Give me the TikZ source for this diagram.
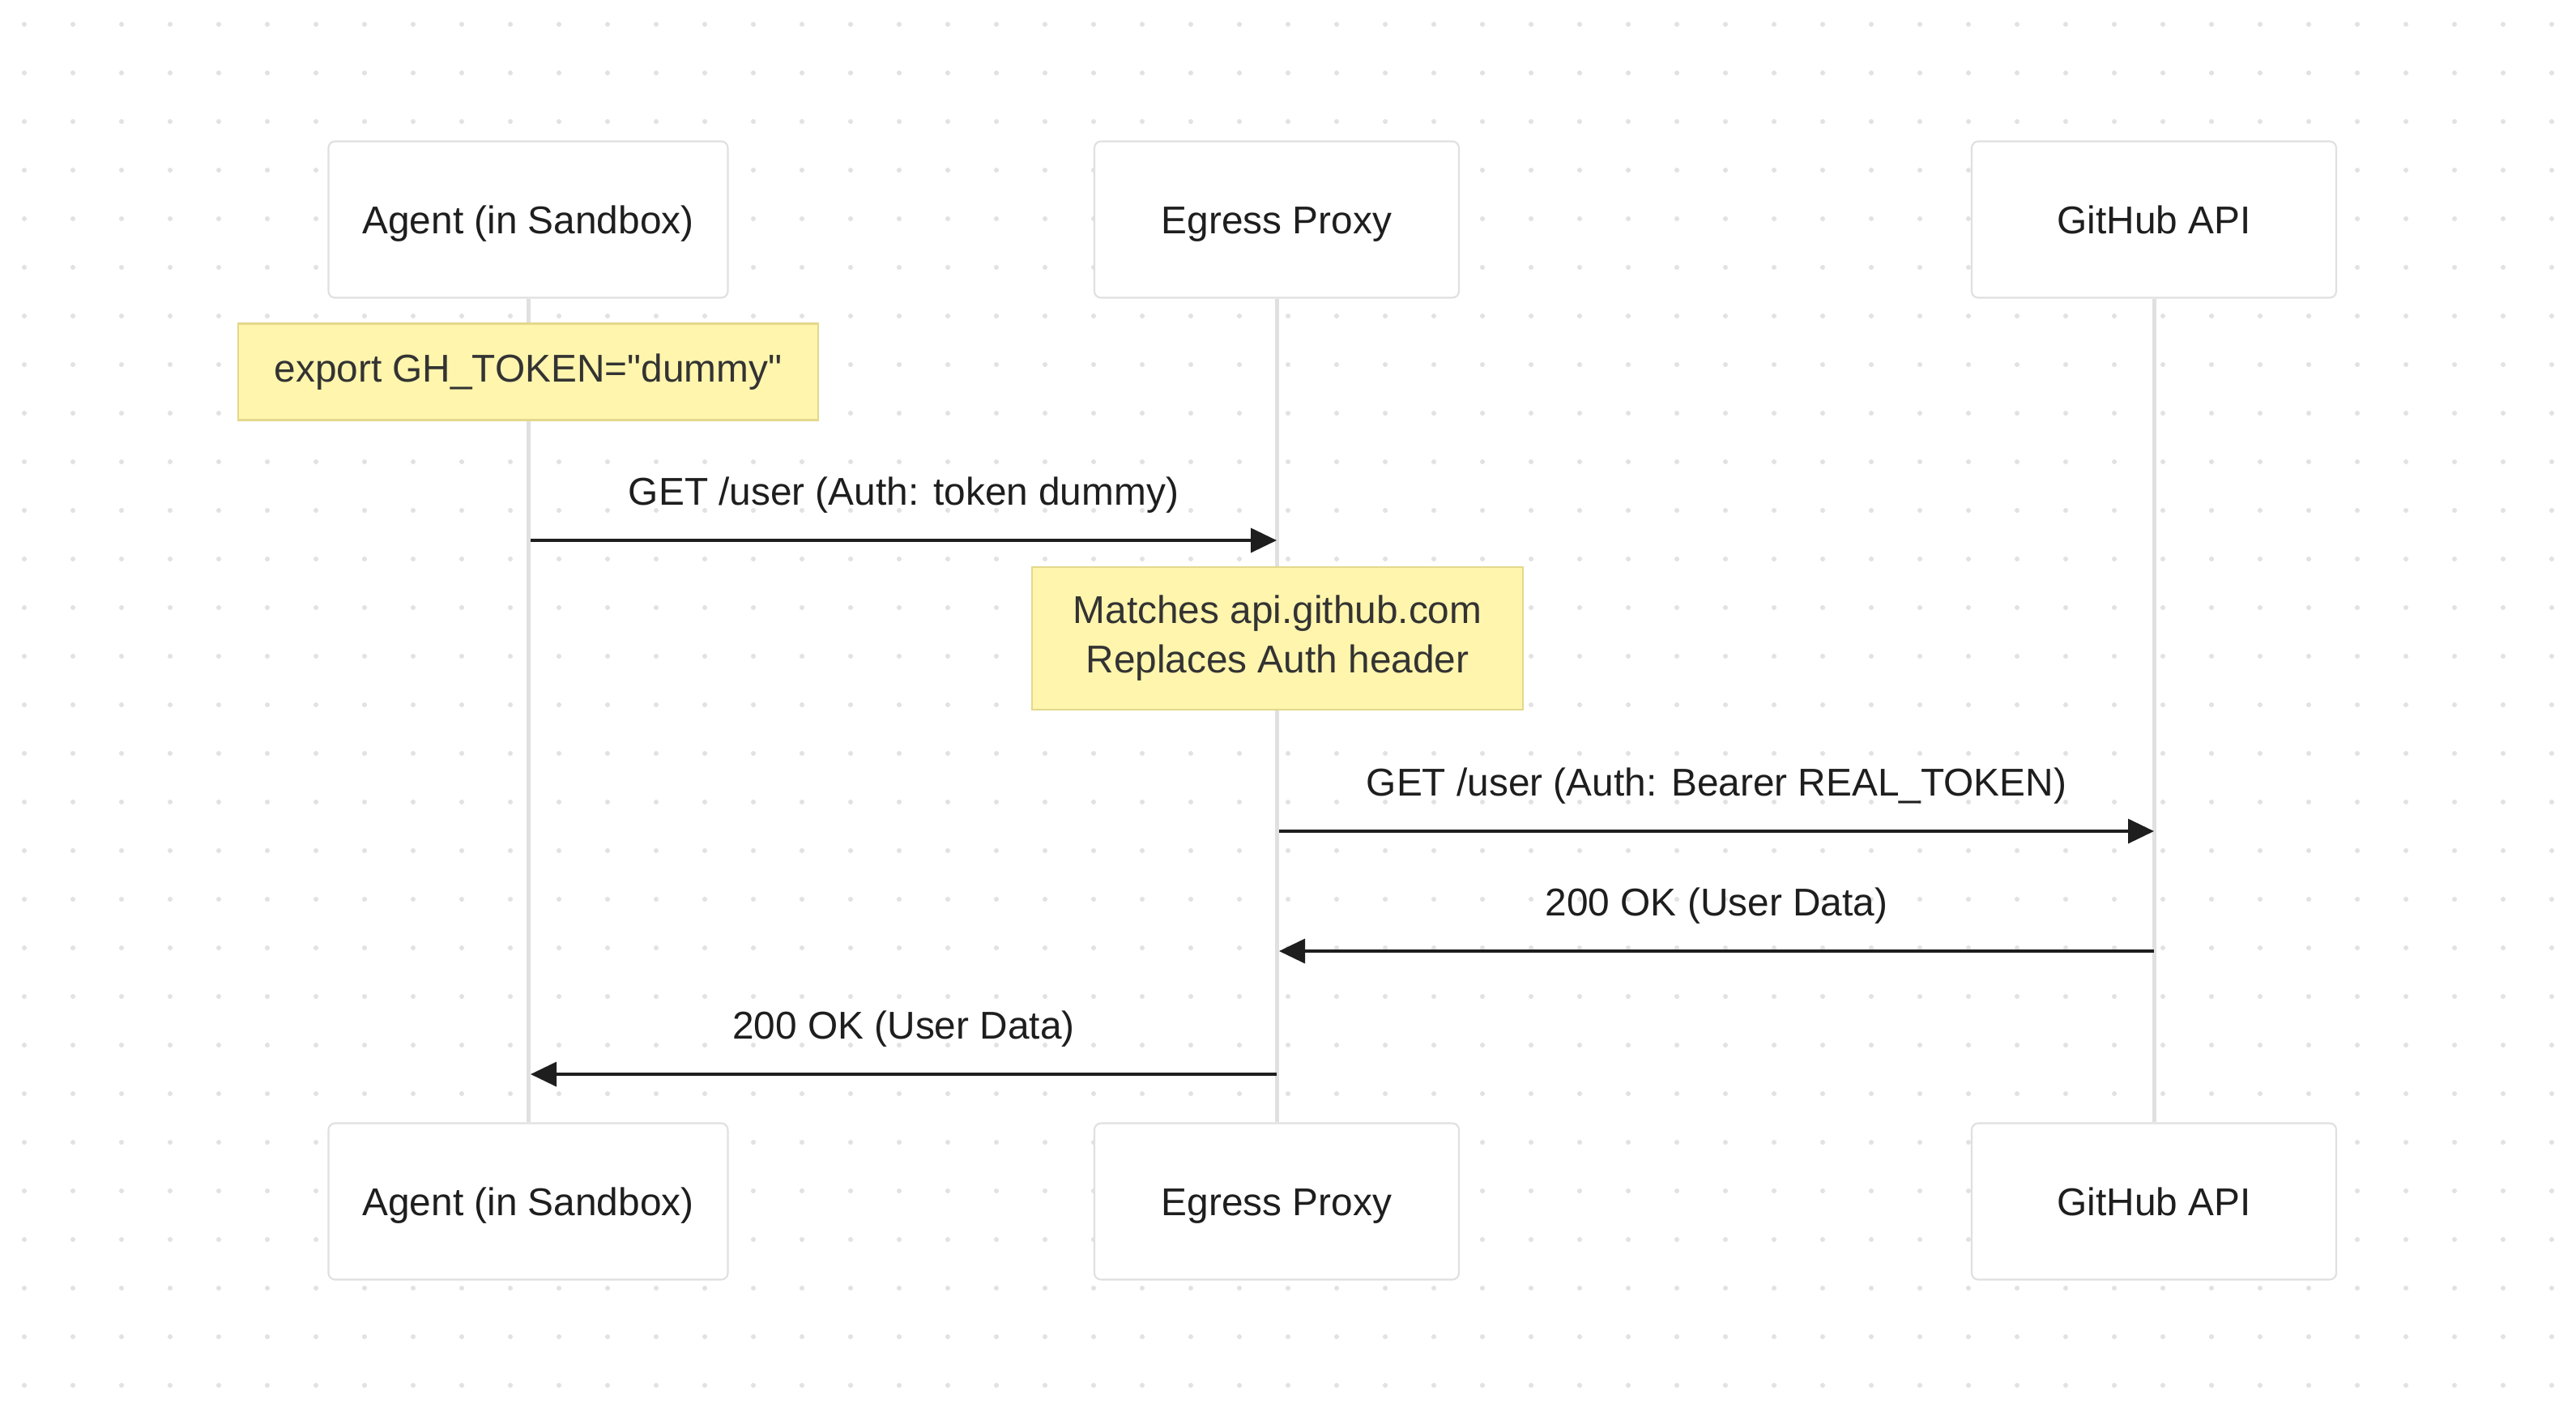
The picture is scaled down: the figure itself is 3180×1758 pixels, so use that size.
\documentclass[tikz,border=0pt]{standalone}
\usepackage{fontspec}
\newfontfamily\diagramfont{Liberation Sans}
\usetikzlibrary{arrows.meta,backgrounds}
\definecolor{dotgray}{HTML}{E2E2E2}
\definecolor{linegray}{HTML}{E0E0E0}
\definecolor{notefill}{HTML}{FFF5AD}
\definecolor{notedraw}{HTML}{E3D88C}
\definecolor{inkblack}{HTML}{1E1E1E}
\begin{document}
\begin{tikzpicture}[
  x=0.1mm, y=-0.1mm,
  every node/.style={font=\diagramfont\fontsize{13.6}{17.4}\selectfont, text=inkblack},
  actor/.style={rectangle, draw=linegray, line width=0.6pt, fill=white,
    rounded corners=0.8mm, minimum height=19.3mm,
    text height=0.97em, text depth=0pt},
  notebox/.style={rectangle, draw=notedraw, line width=0.6pt, fill=notefill,
    align=center, text=black!80},
  lifeline/.style={draw=linegray, line width=0.5mm},
  msg/.style={draw=inkblack, line width=1pt, -{Triangle[length=3.2mm, width=3mm]}},
  msglabel/.style={midway, anchor=base, yshift=4.4mm}
]
\useasboundingbox (0,0) rectangle (3180,1758);

% participants
\node[actor, minimum width=49.3mm] (agentTop) at (652,271) {Agent (in Sandbox)};
\node[actor, minimum width=45mm] (proxyTop) at (1576,271) {Egress Proxy};
\node[actor, minimum width=45mm] (ghTop) at (2659,271) {GitHub API};
\node[actor, minimum width=49.3mm] (agentBot) at (652,1483) {Agent (in Sandbox)};
\node[actor, minimum width=45mm] (proxyBot) at (1576,1483) {Egress Proxy};
\node[actor, minimum width=45mm] (ghBot) at (2659,1483) {GitHub API};

% dotted canvas and lifelines
\begin{pgfonlayer}{background}
  \fill[white] (0,0) rectangle (3180,1758);
  \foreach \x in {30,90,...,3150}
    \foreach \y in {30,90,...,1710}
      \fill[dotgray] (\x,\y) circle (0.3mm);
  \draw[lifeline] (agentTop.south) -- (agentBot.north);
  \draw[lifeline] (proxyTop.south) -- (proxyBot.north);
  \draw[lifeline] (ghTop.south) -- (ghBot.north);
\end{pgfonlayer}

% notes
\node[notebox, minimum width=71.6mm, minimum height=11.9mm] (exportNote) at (652,459)
  {export GH\_TOKEN="dummy"};
\node[notebox, minimum width=60.6mm, minimum height=17.6mm] (matchNote) at (1577,788)
  {Matches api.github.com\\Replaces Auth header};

% messages
\coordinate (m1) at (0,667);
\coordinate (m2) at (0,1026);
\coordinate (m3) at (0,1174);
\coordinate (m4) at (0,1326);
\draw[msg] ([xshift=0.3mm]agentTop |- m1) -- (proxyTop |- m1)
  node[msglabel] {GET /user (Auth: token dummy)};
\draw[msg] ([xshift=0.3mm]proxyTop |- m2) -- (ghTop |- m2)
  node[msglabel] {GET /user (Auth: Bearer REAL\_TOKEN)};
\draw[msg] (ghTop |- m3) -- ([xshift=0.3mm]proxyTop |- m3)
  node[msglabel] {200 OK (User Data)};
\draw[msg] (proxyTop |- m4) -- ([xshift=0.3mm]agentTop |- m4)
  node[msglabel] {200 OK (User Data)};
\end{tikzpicture}
\end{document}
